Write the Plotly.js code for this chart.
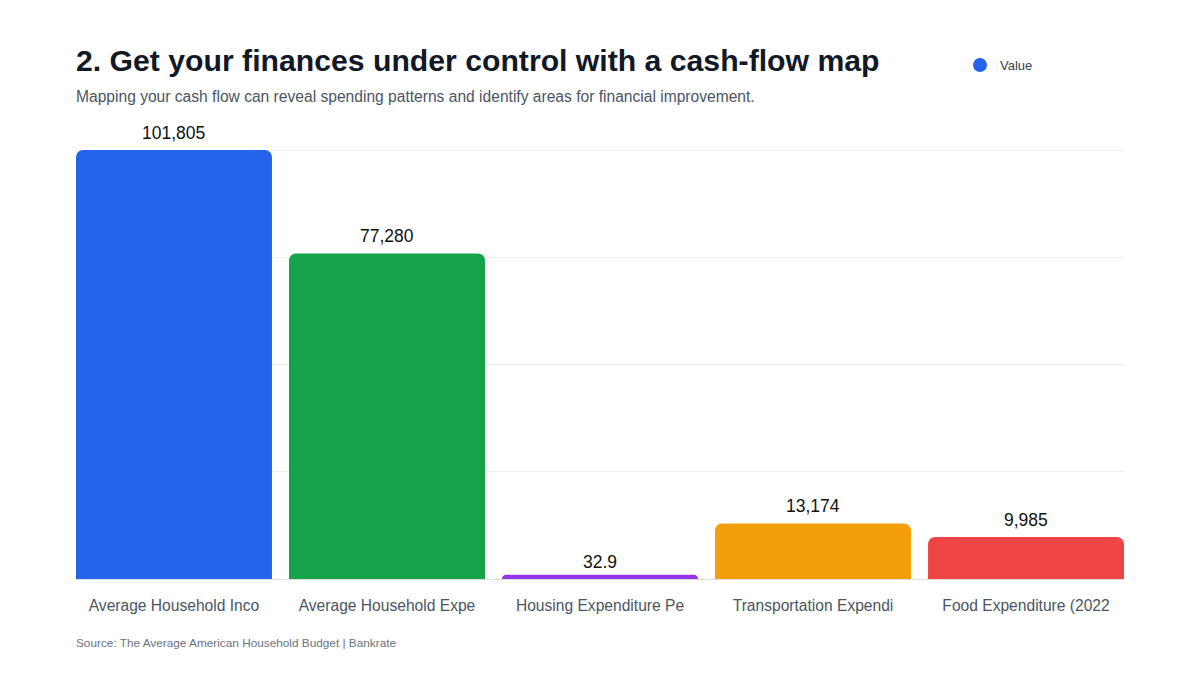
<!DOCTYPE html>
<html>
<head>
<meta charset="utf-8">
<script src="https://cdn.plot.ly/plotly-3.0.1.min.js"></script>
<style>html,body{margin:0;padding:0;background:#fff;}#chart{width:1200px;height:675px;}</style>
</head>
<body>
<div id="chart"></div>
<script>
const categories = ["Average Household Inco", "Average Household Expe", "Housing Expenditure Pe", "Transportation Expendi", "Food Expenditure (2022"];
const values = [101805, 77280, 32.9, 13174, 9985];
const valueLabels = ["101,805", "77,280", "32.9", "13,174", "9,985"];
const barColors = ["#2563eb", "#16a34a", "#9333ea", "#f59e0b", "#ef4444"];
const seriesName = "Value";

const maxV = Math.max(...values);
const gridVals = [1, 2, 3, 4].map(i => maxV * i / 4);

const FONT = "Liberation Sans, Arial, Helvetica, sans-serif";
const PLOT_LEFT = 76, PLOT_RIGHT = 1124, PLOT_W = PLOT_RIGHT - PLOT_LEFT;
const PLOT_TOP = 149, PLOT_BOTTOM = 579, PLOT_H = PLOT_BOTTOM - PLOT_TOP;
const pxToPaperY = px => (PLOT_BOTTOM - px) / PLOT_H;
const BARGAP = 0.08;
const UNIT_PX = PLOT_W / (categories.length - BARGAP);
const MIN_BAR_STROKE = 8;
const isTiny = v => v < maxV * 0.01;

const traces = [
  {
    type: "bar",
    x: categories,
    y: values,
    width: values.map(v => isTiny(v) ? (1 - BARGAP) - MIN_BAR_STROKE / UNIT_PX : (1 - BARGAP)),
    cliponaxis: true,
    marker: {
      color: barColors,
      cornerradius: 7,
      line: {color: barColors, width: values.map(v => isTiny(v) ? MIN_BAR_STROKE : 0)}
    },
    showlegend: false,
    hoverinfo: "x+y"
  },
  {
    type: "scatter",
    mode: "markers",
    x: [null],
    y: [null],
    name: seriesName,
    marker: {color: "#2563eb", size: 14, symbol: "circle"},
    showlegend: true
  }
];

const valueAnnotations = categories.map((c, i) => ({
  x: c, y: values[i], xref: "x", yref: "y",
  text: valueLabels[i],
  showarrow: false,
  yanchor: "bottom",
  yshift: 5,
  font: {family: FONT, size: 17.5, color: "#111111"}
}));

const layout = {
  width: 1200,
  height: 675,
  paper_bgcolor: "#ffffff",
  plot_bgcolor: "#ffffff",
  margin: {l: PLOT_LEFT, r: 1200 - PLOT_RIGHT, t: PLOT_TOP, b: 675 - PLOT_BOTTOM},
  bargap: BARGAP,
  font: {family: FONT, color: "#4b5563"},
  title: {
    text: "<b>2. Get your finances under control with a cash-flow map</b>",
    font: {family: FONT, size: 30.2, color: "#111827"},
    x: 76 / 1200, xref: "container", xanchor: "left",
    y: 1 - 60 / 675, yref: "container", yanchor: "middle"
  },
  xaxis: {
    type: "category",
    range: [-0.5 + BARGAP / 2, categories.length - 0.5 - BARGAP / 2],
    showgrid: false,
    showline: false,
    zeroline: false,
    ticks: "",
    tickfont: {family: FONT, size: 15.6, color: "#4b5563"},
    ticklabelstandoff: 15
  },
  yaxis: {
    range: [0, maxV * 1.0025],
    tickvals: gridVals,
    showticklabels: false,
    showgrid: true,
    gridcolor: "#eeeeee",
    gridwidth: 1,
    zeroline: true,
    zerolinecolor: "#dddddd",
    zerolinewidth: 1,
    showline: false,
    fixedrange: true
  },
  legend: {
    xref: "container", yref: "container",
    x: 960 / 1200, y: 1 - 65 / 675,
    xanchor: "left", yanchor: "middle",
    orientation: "h",
    font: {family: FONT, size: 13, color: "#374151"},
    bgcolor: "rgba(0,0,0,0)"
  },
  annotations: [
    ...valueAnnotations,
    {
      text: "Mapping your cash flow can reveal spending patterns and identify areas for financial improvement.",
      xref: "paper", yref: "paper",
      x: -2 / PLOT_W, y: pxToPaperY(97),
      xanchor: "left", yanchor: "middle",
      showarrow: false,
      font: {family: FONT, size: 15.6, color: "#4b5563"}
    },
    {
      text: "Source: The Average American Household Budget | Bankrate",
      xref: "paper", yref: "paper",
      x: -2 / PLOT_W, y: pxToPaperY(643),
      xanchor: "left", yanchor: "middle",
      showarrow: false,
      font: {family: FONT, size: 11.8, color: "#6b7280"}
    }
  ]
};

Plotly.newPlot("chart", traces, layout, {displayModeBar: false, staticPlot: true});
</script>
</body>
</html>
